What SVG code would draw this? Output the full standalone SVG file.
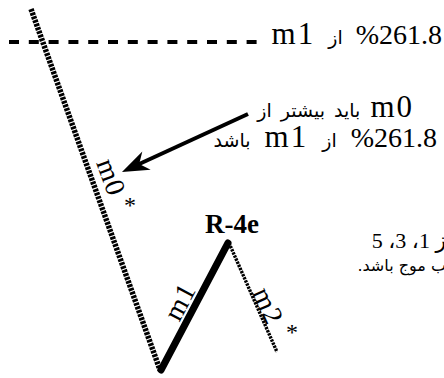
<svg xmlns="http://www.w3.org/2000/svg" width="444" height="378" viewBox="0 0 444 378">
<style>
  text { font-family: "Liberation Serif", "DejaVu Sans", serif; fill: #000; }
  .lat { font-size: 28px; }
  .wide { font-size: 31px; letter-spacing: 2px; }
  .ar { font-family: "DejaVu Sans", sans-serif; font-size: 19px; }
  .bold { font-size: 27px; font-weight: bold; }
  .star { font-size: 24px; }
  .small { font-size: 22px; }
  .ar-s { font-family: "DejaVu Sans", sans-serif; font-size: 16px; }
  .wave0 { stroke: #000; stroke-width: 5.5; stroke-dasharray: 2.8 1.1; fill: none; }
  .wave1 { stroke: #000; stroke-width: 7; stroke-linecap: round; fill: none; }
  .wave2 { stroke: #000; stroke-width: 3.4; stroke-dasharray: 2.4 1; fill: none; }
  .level { stroke: #000; stroke-width: 4; stroke-dasharray: 10 9.8; fill: none; }
  .pointer { stroke: #000; stroke-width: 4; fill: none; }
</style>
<defs>
  <marker id="head" viewBox="-12 -11 30 22" refX="0" refY="0" markerWidth="30" markerHeight="22" markerUnits="userSpaceOnUse" orient="auto">
    <path d="M16,0 L-11,-10 L-3,0 L-11,10 Z" fill="#000"/>
  </marker>
</defs>
<rect width="444" height="378" fill="#fff"/>
<g id="connectors">
  <line class="level" x1="9" y1="42" x2="262" y2="42"/>
  <line class="wave0" x1="31" y1="9" x2="160" y2="370"/>
  <line class="wave1" x1="161" y1="370" x2="228" y2="243"/>
  <line class="wave2" x1="229" y1="243" x2="277" y2="352"/>
  <line class="pointer" x1="248" y1="114" x2="136.5" y2="165.3" marker-end="url(#head)"/>
</g>
<g id="level-label">
  <text class="lat" x="442" y="44" direction="rtl" text-anchor="start" word-spacing="6">%261.8 <tspan class="ar">از</tspan> <tspan class="wide">m1</tspan></text>
</g>
<g id="note">
  <text class="lat" x="414" y="117" direction="rtl" text-anchor="start" word-spacing="3"><tspan class="wide">m0</tspan> <tspan class="ar">باید بیشتر از</tspan></text>
  <text class="lat" x="437" y="147" direction="rtl" text-anchor="start" word-spacing="7" font-size="30">%261.8 <tspan class="ar" font-size="21">از</tspan> <tspan class="wide" font-size="32">m1</tspan> <tspan class="ar" font-size="21">باشد</tspan></text>
</g>
<g id="m0-label">
  <text class="lat" transform="translate(102.4,180.4) rotate(70)" text-anchor="middle" letter-spacing="1">m0</text>
  <text class="star" x="130" y="213" text-anchor="middle">*</text>
</g>
<g id="m1-label">
  <text class="lat" transform="translate(188,306) rotate(-62)" text-anchor="middle" letter-spacing="1">m1</text>
</g>
<g id="m2-label">
  <text class="lat" transform="translate(259.6,309.8) rotate(66)" text-anchor="middle" letter-spacing="1">m2</text>
  <text class="star" x="292" y="340" text-anchor="middle">*</text>
</g>
<g id="r4e">
  <text class="bold" x="232" y="233" text-anchor="middle">R-4e</text>
</g>
<g id="side-note">
  <text class="small" x="446" y="248" direction="rtl" text-anchor="start">ز 1، 3، 5</text>
  <text class="small" x="446" y="271" direction="rtl" text-anchor="start"><tspan class="ar-s">ب موج باشد.</tspan></text>
</g>
</svg>
